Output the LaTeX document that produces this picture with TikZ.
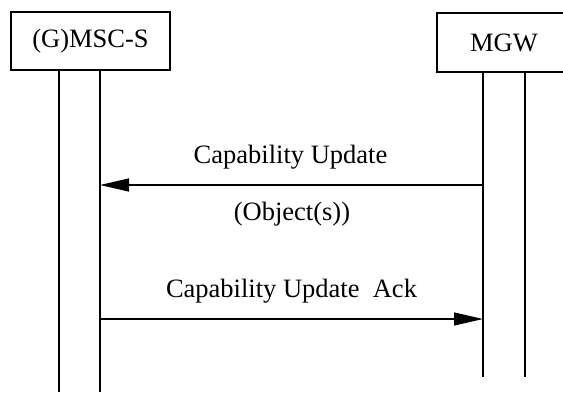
\documentclass[tikz,border=0pt]{standalone}
\usepackage{fontspec}
\setmainfont{Liberation Serif}
\usetikzlibrary{arrows.meta}
\begin{document}
\begin{tikzpicture}[x=1pt,y=-1pt,
  entity/.style={draw,line width=1.3pt,inner sep=0pt,font=\fontsize{26.5}{31}\selectfont},
  life/.style={line width=1.3pt},
  msg/.style={line width=1.3pt,-{Triangle[length=29pt,width=13pt]}},
  lbl/.style={anchor=base,inner sep=0pt,font=\fontsize{26.5}{31}\selectfont}]
\useasboundingbox (0,0) rectangle (563,392);
\clip (0,0) rectangle (563,392);
\node[entity,minimum width=159pt,minimum height=58pt] (msc) at (90.5,41) {(G)MSC-S};
\node[entity,minimum width=134pt,minimum height=59pt] (mgw) at (504,42.5) {MGW};
% lifelines
\coordinate (a1) at (59,70);  \coordinate (a2) at (59,392);
\coordinate (b1) at (100,70); \coordinate (b2) at (100,392);
\coordinate (c1) at (483,72); \coordinate (c2) at (483,377);
\coordinate (d1) at (525,72); \coordinate (d2) at (525,377);
\draw[life] (a1) -- (a2);
\draw[life] (b1) -- (b2);
\draw[life] (c1) -- (c2);
\draw[life] (d1) -- (d2);
% messages
\coordinate (m1s) at (483,185); \coordinate (m1e) at (100,185);
\coordinate (m2s) at (100,319); \coordinate (m2e) at (483,319);
\draw[msg] (m1s) -- (m1e);
\draw[msg] (m2s) -- (m2e);
\node[lbl] (t1) at (290.5,163) {Capability Update};
\node[lbl] (t2) at (292,220) {(Object(s))};
\node[lbl] (t3) at (291.5,297) {Capability Update\ \ Ack};
\end{tikzpicture}
\end{document}
